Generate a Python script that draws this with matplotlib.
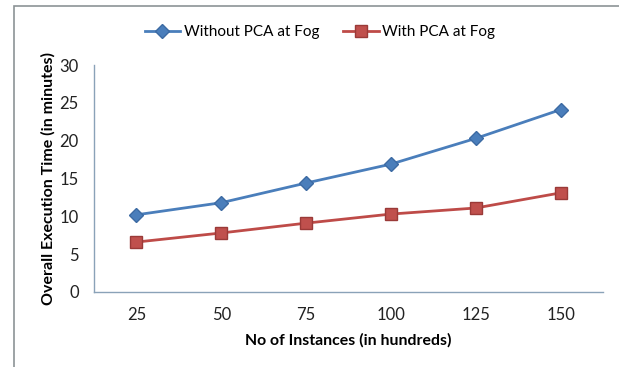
import matplotlib
matplotlib.use("Agg")
import matplotlib.pyplot as plt
from matplotlib.patches import Rectangle

# Datos: tiempo de ejecucion total (minutos) vs numero de instancias
instancias = ['25', '50', '75', '100', '125', '150']
sin_pca = [10.2, 11.8, 14.4, 16.9, 20.3, 24.1]
con_pca = [6.6, 7.8, 9.1, 10.3, 11.1, 13.1]

plt.rcParams['font.family'] = ['Lato', 'DejaVu Sans']

fig = plt.figure(figsize=(6.19, 3.67), dpi=100)
ax = fig.add_axes([94 / 619, 1 - 292 / 367, 509 / 619, 227 / 367])

# Marco exterior del grafico
fig.patches.append(Rectangle((14 / 619, -0.1), 1.2, 1 - 6 / 367 + 0.1,
                             transform=fig.transFigure, fill=False,
                             edgecolor='#8c9396', linewidth=1.2))

x = range(len(instancias))
ax.plot(x, sin_pca, color='#4a7ebb', linewidth=2, marker='D', markersize=7,
        markerfacecolor='#4a7ebb', markeredgecolor='#3c6aa3',
        label='Without PCA at Fog')
ax.plot(x, con_pca, color='#be4b48', linewidth=2, marker='s', markersize=8,
        markerfacecolor='#c0504d', markeredgecolor='#9a3a38',
        label='With PCA at Fog')

ax.set_xlim(-0.5, len(instancias) - 0.5)
ax.set_ylim(0, 30)
ax.set_xticks(list(x))
ax.set_xticklabels(instancias)
ax.set_yticks(range(0, 31, 5))
ax.tick_params(axis='both', length=0, labelsize=12, colors='#222222')
ax.tick_params(axis='x', pad=11)
ax.tick_params(axis='y', pad=11)

for lado in ['top', 'right']:
    ax.spines[lado].set_visible(False)
for lado in ['left', 'bottom']:
    ax.spines[lado].set_color('#8aa2b8')
    ax.spines[lado].set_linewidth(1.0)

ax.set_xlabel('No of Instances (in hundreds)', fontsize=11.4, fontweight='bold',
              labelpad=7)
ax.set_ylabel('Overall Execution Time (in minutes)', fontsize=11.5,
              fontweight='bold', labelpad=3)

ax.legend(loc='center', bbox_to_anchor=(320 / 619, 1 - 32 / 367),
          bbox_transform=fig.transFigure, ncol=2, frameon=False,
          fontsize=11, handlelength=2.3, handletextpad=0.25,
          columnspacing=1.6)

fig.savefig('out.png', dpi=100)
